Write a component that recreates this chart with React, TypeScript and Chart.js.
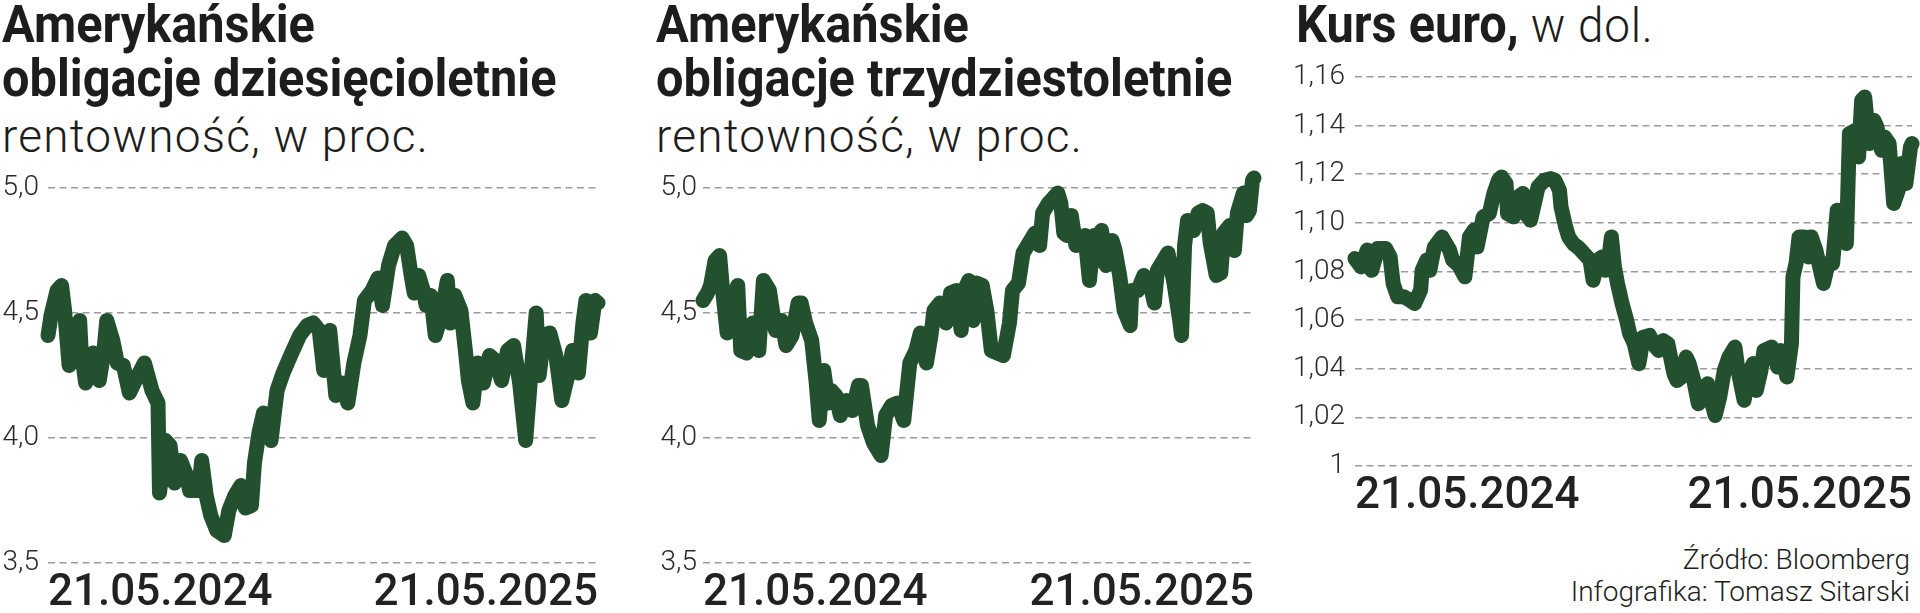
import React, { useEffect, useRef } from 'react';
import { Chart, registerables } from 'chart.js';

Chart.register(...registerables);

// ---------- data ----------
const dateLabels = ['21.05.2024', '21.05.2025'];
const yieldTicks = [3.5, 4.0, 4.5, 5.0];
const eurTicks = [1.0, 1.02, 1.04, 1.06, 1.08, 1.1, 1.12, 1.14, 1.16];

// day offsets from 21.05.2024 and yields of US 10Y bonds (%)
const days10y = [
  0, 2, 6, 9, 11, 14, 17, 21, 22, 25,
  30, 34, 37, 39, 43, 46, 50, 54, 58, 64,
  69, 73, 74, 78, 81, 84, 88, 92, 94, 100,
  102, 105, 108, 112, 117, 120, 124, 128, 131, 135,
  137, 140, 143, 145, 148, 152, 156, 161, 167, 172,
  176, 180, 183, 187, 191, 195, 199, 203, 207, 210,
  215, 219, 222, 226, 230, 235, 238, 241, 243, 246,
  249, 251, 254, 257, 261, 265, 267, 270, 274, 277,
  279, 282, 285, 289, 293, 297, 301, 305, 309, 313,
  317, 320, 324, 326, 329, 333, 337, 341, 345, 348,
  352, 355, 357, 360, 363, 365,
];
const yield10y = [
  4.41, 4.49, 4.59, 4.61, 4.51, 4.29, 4.41, 4.47, 4.35, 4.22,
  4.34, 4.23, 4.34, 4.47, 4.39, 4.30, 4.29, 4.18, 4.23, 4.30,
  4.19, 4.14, 3.78, 3.99, 3.97, 3.82, 3.91, 3.85, 3.79, 3.79,
  3.91, 3.77, 3.69, 3.63, 3.61, 3.71, 3.77, 3.81, 3.72, 3.73,
  3.90, 4.02, 4.10, 4.09, 3.99, 4.19, 4.26, 4.33, 4.41, 4.45,
  4.46, 4.43, 4.27, 4.43, 4.17, 4.22, 4.14, 4.30, 4.41, 4.55,
  4.59, 4.64, 4.53, 4.69, 4.77, 4.80, 4.77, 4.65, 4.58, 4.65,
  4.59, 4.53, 4.57, 4.41, 4.49, 4.63, 4.46, 4.57, 4.51, 4.35,
  4.23, 4.14, 4.30, 4.22, 4.33, 4.31, 4.23, 4.35, 4.37, 4.22,
  3.99, 4.22, 4.50, 4.25, 4.41, 4.42, 4.33, 4.15, 4.25, 4.35,
  4.26, 4.46, 4.55, 4.42, 4.55, 4.54,
];

// US 30Y bond yields (%)
const days30y = [
  0, 3, 5, 8, 11, 13, 16, 19, 23, 25,
  29, 33, 37, 40, 44, 48, 52, 55, 59, 63,
  65, 68, 72, 75, 77, 80, 83, 85, 88, 91,
  95, 99, 103, 105, 109, 113, 118, 121, 125, 129,
  133, 137, 141, 144, 148, 151, 153, 157, 161, 164,
  168, 171, 173, 176, 179, 181, 185, 188, 191, 195,
  199, 203, 205, 209, 212, 216, 220, 223, 225, 229,
  235, 237, 239, 241, 244, 247, 249, 253, 256, 259,
  261, 264, 267, 271, 273, 276, 279, 283, 284, 288,
  292, 296, 299, 301, 305, 308, 312, 316, 317, 319,
  321, 325, 328, 331, 334, 336, 340, 343, 345, 349,
  352, 354, 358, 360, 362, 364, 365,
];
const yield30y = [
  4.55, 4.58, 4.61, 4.71, 4.73, 4.59, 4.42, 4.55, 4.61, 4.35,
  4.34, 4.46, 4.35, 4.63, 4.59, 4.43, 4.47, 4.37, 4.41, 4.54,
  4.54, 4.46, 4.39, 4.22, 4.07, 4.27, 4.14, 4.19, 4.17, 4.09,
  4.15, 4.11, 4.21, 4.21, 4.05, 3.98, 3.93, 4.09, 4.13, 4.14,
  4.07, 4.30, 4.35, 4.42, 4.30, 4.41, 4.51, 4.54, 4.46, 4.58,
  4.59, 4.43, 4.59, 4.63, 4.47, 4.62, 4.61, 4.51, 4.35, 4.34,
  4.33, 4.46, 4.59, 4.62, 4.74, 4.78, 4.82, 4.77, 4.90, 4.94,
  4.98, 4.94, 4.82, 4.81, 4.89, 4.77, 4.79, 4.81, 4.63, 4.81,
  4.71, 4.83, 4.69, 4.79, 4.75, 4.65, 4.51, 4.45, 4.59, 4.59,
  4.65, 4.62, 4.54, 4.67, 4.71, 4.74, 4.62, 4.46, 4.41, 4.77,
  4.87, 4.83, 4.90, 4.91, 4.90, 4.78, 4.65, 4.66, 4.82, 4.85,
  4.75, 4.90, 4.98, 4.89, 4.91, 5.03, 5.04,
];

// EUR/USD exchange rate
const daysEur = [
  0, 4, 8, 11, 15, 20, 23, 25, 28, 32,
  36, 39, 43, 44, 47, 49, 52, 57, 62, 64,
  68, 72, 75, 78, 80, 84, 88, 91, 94, 96,
  99, 100, 104, 107, 110, 112, 115, 118, 120, 124,
  128, 131, 134, 135, 138, 140, 143, 147, 150, 154,
  156, 159, 162, 164, 167, 168, 170, 172, 175, 178,
  180, 183, 186, 189, 193, 197, 199, 202, 205, 209,
  211, 214, 217, 219, 222, 225, 229, 231, 234, 236,
  239, 242, 245, 249, 251, 255, 258, 261, 263, 266,
  268, 273, 277, 279, 283, 286, 287, 289, 291, 294,
  297, 299, 302, 305, 307, 310, 313, 316, 318, 322,
  324, 328, 330, 332, 334, 337, 340, 342, 345, 347,
  350, 353, 356, 358, 361, 364, 365,
];
const eurUsd = [
  1.0853, 1.0819, 1.0888, 1.0805, 1.0895, 1.0895, 1.086, 1.075, 1.0696, 1.0696,
  1.0682, 1.0668, 1.0723, 1.0805, 1.0847, 1.0805, 1.0901, 1.0942, 1.0888, 1.0847,
  1.0826, 1.0778, 1.0942, 1.097, 1.0901, 1.1025, 1.1038, 1.1121, 1.1175, 1.1189,
  1.1162, 1.1038, 1.1025, 1.1107, 1.1121, 1.1038, 1.1011, 1.1093, 1.1148, 1.1175,
  1.1182, 1.1175, 1.1134, 1.1066, 1.0984, 1.0942, 1.0915, 1.0895, 1.0874, 1.0847,
  1.0764, 1.0847, 1.086, 1.0805, 1.0888, 1.0942, 1.0819, 1.0751, 1.0668, 1.06,
  1.0544, 1.0503, 1.0421, 1.053, 1.0537, 1.0489, 1.0475, 1.0516, 1.0503, 1.038,
  1.0352, 1.0366, 1.0448, 1.0421, 1.0352, 1.0256, 1.0284, 1.0338, 1.0256, 1.0208,
  1.0284, 1.0393, 1.0448, 1.0489, 1.0393, 1.027, 1.038, 1.0421, 1.0311, 1.0393,
  1.0475, 1.0489, 1.0407, 1.0475, 1.0366, 1.0503, 1.0778, 1.0833, 1.0942, 1.0942,
  1.086, 1.0942, 1.0888, 1.0805, 1.0751, 1.0833, 1.0833, 1.1052, 1.0942, 1.0915,
  1.1367, 1.1381, 1.1271, 1.1504, 1.1518, 1.1326, 1.1422, 1.1395, 1.1299, 1.1353,
  1.1326, 1.108, 1.1134, 1.1244, 1.1162, 1.1312, 1.1326,
];

// ---------- styles ----------
const GREEN = '#23512f';
const GRID = '#9b9b9b';
const TEXT = '#1d1d1b';
const FONT = 'Roboto, "Noto Sans", sans-serif';

type PanelProps = {
  days: number[];
  values: number[];
  ticks: number[];
  fmt: (v: number) => string;
  left: number;
  top: number;
  width: number;
  height: number;
  axisW: number;
  tickPad: number;
  padTop: number;
  padRight: number;
  xAxisH: number;
};

function LinePanel(p: PanelProps) {
  const ref = useRef<HTMLCanvasElement>(null);
  useEffect(() => {
    const canvas = ref.current;
    if (!canvas) return;
    const chart = new Chart(canvas, {
      type: 'line',
      data: {
        datasets: [
          {
            data: p.days.map((d, i) => ({ x: d, y: p.values[i] })),
            borderColor: GREEN,
            backgroundColor: GREEN,
            borderWidth: 15,
            borderJoinStyle: 'round',
            borderCapStyle: 'round',
            pointRadius: 0,
            tension: 0,
            fill: false,
            clip: false,
          } as any,
        ],
      },
      options: {
        animation: false,
        responsive: false,
        maintainAspectRatio: false,
        devicePixelRatio: 1,
        events: [],
        layout: { padding: { top: p.padTop, right: p.padRight, left: 0, bottom: 0 } },
        plugins: { legend: { display: false }, tooltip: { enabled: false } },
        scales: {
          x: {
            type: 'linear',
            min: 0,
            max: 365,
            afterBuildTicks: (s: any) => {
              s.ticks = [{ value: 0 }, { value: 365 }];
            },
            afterFit: (s: any) => {
              s.height = p.xAxisH;
            },
            ticks: {
              align: 'inner',
              maxRotation: 0,
              minRotation: 0,
              autoSkip: false,
              padding: -3,
              color: '#222222',
              font: { family: FONT, size: 44, weight: '500' },
              callback: (_v: any, i: number) => dateLabels[i],
            },
            grid: { display: false },
            border: { display: false },
          },
          y: {
            type: 'linear',
            min: p.ticks[0],
            max: p.ticks[p.ticks.length - 1],
            afterBuildTicks: (s: any) => {
              s.ticks = p.ticks.map((v) => ({ value: v }));
            },
            afterFit: (s: any) => {
              s.width = p.axisW;
            },
            ticks: {
              padding: p.tickPad,
              color: '#2a2a2a',
              font: { family: FONT, size: 28, weight: '300' },
              callback: (v: any) => p.fmt(Number(v)),
            },
            grid: { color: GRID, lineWidth: 1.5, drawTicks: false },
            border: { display: false, dash: [7, 4.5] },
          },
        },
      } as any,
    });
    return () => chart.destroy();
  }, []);
  return (
    <canvas
      ref={ref}
      width={p.width}
      height={p.height}
      style={{ position: 'absolute', left: p.left, top: p.top, width: p.width, height: p.height }}
    />
  );
}

const fmtYield = (v: number) => v.toFixed(1).replace('.', ',');
const fmtEur = (v: number) => (Math.abs(v - 1) < 1e-9 ? '1' : v.toFixed(2).replace('.', ','));

const boldStyle: React.CSSProperties = {
  position: 'absolute',
  fontFamily: FONT,
  fontWeight: 700,
  fontSize: 51,
  lineHeight: '54px',
  color: TEXT,
  whiteSpace: 'nowrap',
  margin: 0,
  transform: 'scaleX(0.955)',
  transformOrigin: 'left top',
};
const lightStyle: React.CSSProperties = {
  position: 'absolute',
  fontFamily: FONT,
  fontWeight: 300,
  fontSize: 46,
  letterSpacing: '1.2px',
  lineHeight: '44px',
  color: TEXT,
  whiteSpace: 'nowrap',
  margin: 0,
};

export default function App() {
  useEffect(() => {
    document.body.style.margin = '0';
  }, []);
  return (
    <div
      style={{
        position: 'absolute',
        left: 0,
        top: 0,
        width: 1920,
        height: 613,
        background: '#ffffff',
        overflow: 'hidden',
      }}
    >
      {/* Panel 1 */}
      <div style={{ ...boldStyle, left: 2, top: -2 }}>
        Amerykańskie
        <br />
        obligacje dziesięcioletnie
      </div>
      <div style={{ ...lightStyle, left: 2, top: 114 }}>rentowność, w proc.</div>
      <LinePanel
        days={days10y}
        values={yield10y}
        ticks={yieldTicks}
        fmt={fmtYield}
        left={0}
        top={160}
        width={620}
        height={453}
        axisW={48}
        tickPad={9}
        padTop={28}
        padRight={22}
        xAxisH={50}
      />

      {/* Panel 2 */}
      <div style={{ ...boldStyle, left: 656, top: -2 }}>
        Amerykańskie
        <br />
        obligacje trzydziestoletnie
      </div>
      <div style={{ ...lightStyle, left: 656, top: 114 }}>rentowność, w proc.</div>
      <LinePanel
        days={days30y}
        values={yield30y}
        ticks={yieldTicks}
        fmt={fmtYield}
        left={640}
        top={160}
        width={640}
        height={453}
        axisW={63}
        tickPad={6}
        padTop={28}
        padRight={26}
        xAxisH={50}
      />

      {/* Panel 3 */}
      <div style={{ ...boldStyle, left: 1296, top: -2 }}>
        Kurs euro,
        <span style={{ fontWeight: 300, fontSize: 48, letterSpacing: '0.8px' }}> w dol.</span>
      </div>
      <LinePanel
        days={daysEur}
        values={eurUsd}
        ticks={eurTicks}
        fmt={fmtEur}
        left={1280}
        top={50}
        width={640}
        height={480}
        axisW={75}
        tickPad={10}
        padTop={27}
        padRight={8}
        xAxisH={64}
      />

      <div
        style={{
          position: 'absolute',
          right: 10,
          top: 544,
          fontFamily: FONT,
          fontWeight: 300,
          fontSize: 28,
          lineHeight: '32px',
          color: TEXT,
          textAlign: 'right',
          whiteSpace: 'nowrap',
        }}
      >
        Źródło: Bloomberg
        <br />
        Infografika: Tomasz Sitarski
      </div>
    </div>
  );
}
